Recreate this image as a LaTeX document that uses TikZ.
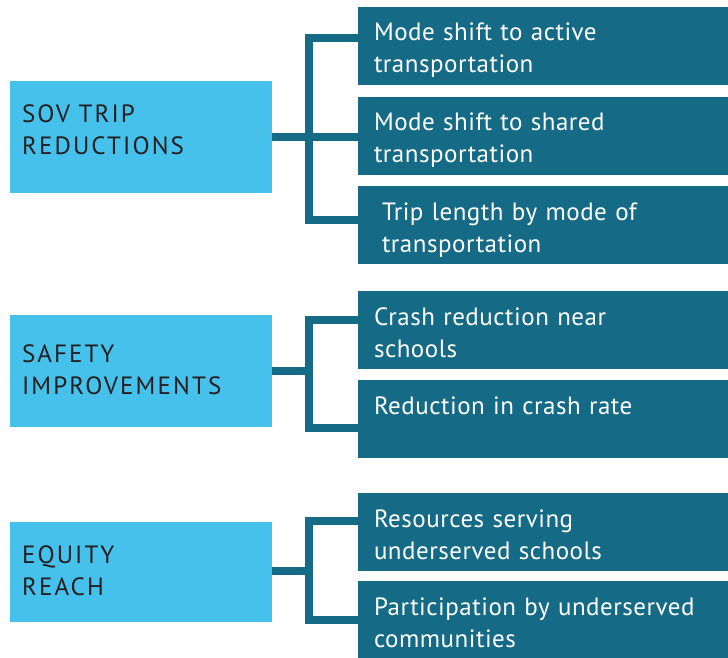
\documentclass[tikz,border=0pt]{standalone}
\usepackage{fontspec}
\setmainfont{PT Sans}
\definecolor{skyblue}{HTML}{45C1EC}
\definecolor{deepteal}{HTML}{156B85}
\definecolor{inkgray}{HTML}{231F20}

\begin{document}
\begin{tikzpicture}[x=1pt, y=-1pt,
    goal node/.style={rectangle, fill=skyblue, text=inkgray, inner ysep=0pt, inner xsep=12pt,
                      text width=238pt, align=left,
                      font=\fontsize{25}{32}\selectfont\addfontfeature{LetterSpace=8.5}},
    metric node/.style={rectangle, fill=deepteal, text=white, inner ysep=0pt, inner xsep=16pt,
                        text width=338pt, text height=34pt, text depth=44pt, align=left,
                        font=\fontsize{25}{32}\selectfont\addfontfeature{LetterSpace=2}},
    link/.style={deepteal, line width=8.5pt, line join=miter}]

    \useasboundingbox (0,0) rectangle (728,658);

    \node[goal node, text height=42pt, text depth=70pt] (sov)    at (141,137) {SOV TRIP\\REDUCTIONS};
    \node[goal node, text height=47pt, text depth=65pt] (safety) at (141,371) {SAFETY\\IMPROVEMENTS};
    \node[goal node, text height=41pt, text depth=59pt] (equity) at (141,572) {EQUITY\\REACH};

    \node[metric node] (active)  at (543,46)  {Mode shift to active\\transportation};
    \node[metric node] (shared)  at (543,136) {Mode shift to shared\\transportation};
    \node[metric node] (length)  at (543,225) {\hspace*{8pt}Trip length by mode of\\\hspace*{8pt}transportation};
    \node[metric node] (crash)   at (543,330) {Crash reduction near\\schools};
    \node[metric node] (rate)    at (543,419) {Reduction in crash rate\\\strut};
    \node[metric node] (serving) at (543,532) {Resources serving\\underserved schools};
    \node[metric node] (partic)  at (543,620) {Participation by underserved\\communities};

    \coordinate (sovbar)    at (309,137);
    \coordinate (safetybar) at (309,371);
    \coordinate (equitybar) at (309,571);

    % SOV trip reductions
    \draw[link] (sov.east |- sovbar) -- (shared.west |- sovbar);
    \draw[link] ([yshift=8pt]active.west) -| (sovbar) |- ([yshift=5pt]length.west);
    % safety improvements
    \draw[link] (safety.east |- safetybar) -- (safetybar);
    \draw[link] ([yshift=10pt]crash.west) -| (safetybar) |- ([yshift=-9pt]rate.west);
    % equity reach
    \draw[link] (equity.east |- equitybar) -- (equitybar);
    \draw[link] ([yshift=11pt]serving.west) -| (equitybar) |- (partic.west);
  \end{tikzpicture}
\end{document}
